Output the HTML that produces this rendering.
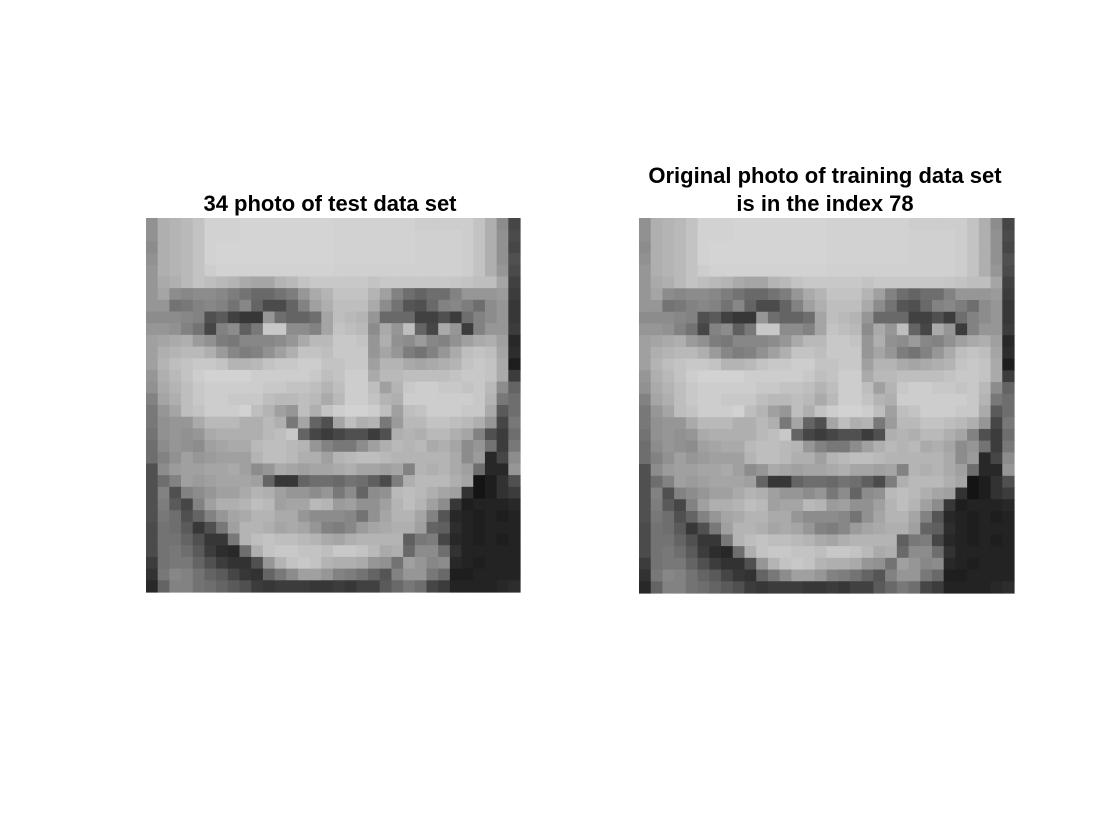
<!DOCTYPE html>
<html><head><meta charset="utf-8"><style>
html,body{margin:0;padding:0;background:#fff;width:1120px;height:840px;overflow:hidden}
svg{display:block}
text{font-family:"Liberation Sans",Arial,sans-serif;font-weight:bold;font-size:22px;fill:#000}
</style></head><body>
<svg id="fig" width="1120" height="840">
<text x="330" y="211" text-anchor="middle">34 photo of test data set</text>
<text x="825" y="183" text-anchor="middle">Original photo of training data set</text>
<text x="825" y="211" text-anchor="middle">is in the index 78</text>
<g id="imgL"></g>
<g id="imgR"></g>
</svg>
<script>
const topLeft = [
[145,175,180,185,195,210,210,210,212,212,212,212,212,212,212,212],
[145,175,180,185,195,210,210,210,212,212,212,212,212,212,212,212],
[140,175,180,185,195,210,212,212,212,212,212,212,212,212,212,212],
[145,175,180,185,195,210,212,212,212,212,212,212,212,212,212,212],
[150,175,180,185,195,205,210,210,210,210,210,210,210,210,210,210],
[150,170,175,185,195,190,185,180,170,165,165,180,185,195,200,200],
[150,165,140,135,140,140,135,125,115,105,105,115,125,150,170,180],
[150,150,115,120,130,135,130,115,135,100,75,75,100,130,160,175],
[140,140,140,135,130,80,90,65,55,55,150,110,100,100,110,165],
[150,150,145,130,115,70,130,140,95,120,200,200,140,140,130,165],
[160,165,170,175,155,145,125,120,135,135,135,140,150,170,185,185],
[160,175,180,185,185,175,155,135,125,130,145,160,175,195,195,190],
[160,180,190,195,200,200,195,180,180,185,195,200,200,205,205,195],
[150,175,185,195,205,210,210,210,210,205,205,205,205,205,200,190],
[145,170,180,190,200,205,205,205,205,205,200,200,195,195,190,180],
[130,165,175,190,200,205,205,200,200,200,190,185,185,190,185,170]];
const topRight = [
[210,210,210,210,210,210,210,205,205,205,205,205,195,175,140,70],
[210,210,210,210,210,210,210,208,208,208,208,205,195,175,145,75],
[210,210,210,210,210,210,210,208,208,208,208,205,195,175,145,70],
[210,210,210,210,210,210,210,208,208,208,208,205,195,175,145,80],
[208,208,208,208,208,208,208,208,208,208,208,205,195,175,150,75],
[200,200,200,195,200,200,200,200,200,200,198,195,190,190,165,65],
[195,195,195,180,160,130,110,100,110,110,130,150,150,150,155,60],
[190,190,190,170,140,115,85,80,105,130,135,125,110,140,150,55],
[190,185,180,150,105,105,105,65,65,80,60,110,130,140,150,55],
[195,190,185,140,170,150,190,100,70,170,150,60,130,150,150,60],
[200,200,195,150,175,145,140,155,135,130,145,160,170,175,160,40],
[200,200,200,150,165,150,125,115,130,150,170,190,195,190,165,45],
[195,200,200,160,180,180,170,165,170,175,180,195,200,195,170,30],
[195,205,205,170,185,185,190,190,190,190,195,200,200,195,170,60],
[190,205,205,190,160,180,200,205,205,200,200,195,200,185,140,100],
[185,205,205,195,180,175,205,205,205,205,205,205,200,180,120,110]];
const bottomLeft = [
[120,150,165,190,195,205,205,205,210,190,180,160,150,190,175,195],
[120,145,150,150,170,185,185,185,175,175,185,175,120,165,100,80],
[115,145,150,145,150,170,175,175,175,175,185,190,200,100,70,60],
[110,140,150,145,140,160,165,170,170,185,190,190,185,180,150,130],
[110,130,145,160,150,155,160,160,160,180,190,190,185,175,175,160],
[80,140,155,160,160,165,165,170,160,140,150,170,165,160,165,165],
[80,110,130,160,155,160,165,165,165,160,100,55,55,100,110,110],
[80,130,80,130,140,150,160,160,170,180,175,160,150,150,140,150],
[80,125,90,70,130,160,175,175,180,190,185,160,165,165,185,180],
[80,120,110,80,100,130,150,165,170,180,180,170,170,150,140,140],
[75,115,110,90,55,80,120,160,180,180,175,165,170,165,150,130],
[75,115,115,100,80,55,55,120,180,190,195,190,190,185,180,170],
[75,115,120,110,90,60,45,40,110,175,195,200,200,195,195,190],
[60,115,120,120,100,80,60,50,50,80,150,180,195,200,195,180],
[50,120,135,130,115,100,90,70,55,50,100,120,140,160,160,150],
[40,100,130,130,115,110,100,90,80,60,55,60,60,60,55,55]];
const bottomRight = [
[205,210,210,205,190,160,190,195,205,205,205,200,200,170,90,110],
[165,190,175,180,120,155,185,185,195,195,190,185,175,150,70,120],
[70,80,80,60,80,175,180,175,185,185,175,165,130,80,60,110],
[120,120,140,160,175,185,180,185,170,175,165,140,150,115,60,120],
[180,185,190,190,185,180,180,180,180,180,170,140,155,40,70,140],
[170,175,165,165,160,165,130,180,175,180,170,160,110,40,40,150],
[105,115,110,95,75,125,175,185,185,185,175,165,20,30,50,80],
[120,140,100,140,145,185,190,185,175,165,160,50,20,30,50,60],
[155,160,145,145,160,180,190,180,160,140,55,30,35,35,35,40],
[140,135,115,145,165,180,180,165,130,85,40,35,30,35,30,35],
[125,135,155,165,170,175,175,160,100,95,45,35,30,35,35,35],
[165,175,180,180,180,180,95,120,125,70,40,35,30,35,30,35],
[200,200,195,185,170,175,105,140,140,110,50,35,35,35,35,35],
[175,175,170,150,145,115,160,150,135,140,40,35,30,35,35,35],
[130,125,115,100,85,130,150,150,120,105,30,30,35,35,35,35],
[60,55,65,65,90,105,120,110,70,60,35,35,35,35,40,45]];

const NS='http://www.w3.org/2000/svg';
const rows = [];
for (let r=0;r<16;r++) rows.push(topLeft[r].concat(topRight[r]));
for (let r=0;r<16;r++) rows.push(bottomLeft[r].concat(bottomRight[r]));

function drawImage(gid, x0, y0, size){
  const g=document.getElementById(gid);
  const n=rows.length, m=rows[0].length;
  const cw=size/m, ch=size/n;
  const xs=c=>x0+c*cw, ys=r=>y0+r*ch;
  for(let r=0;r<n;r++){
    for(let c=0;c<m;c++){
      const v=Math.round(rows[r][c]);
      const rect=document.createElementNS(NS,'rect');
      rect.setAttribute('x',xs(c));
      rect.setAttribute('y',ys(r));
      rect.setAttribute('width',cw+0.6);
      rect.setAttribute('height',ch+0.6);
      rect.setAttribute('fill','rgb('+v+','+v+','+v+')');
      
      
      g.appendChild(rect);
    }
  }
}
drawImage('imgL',146,218,374);
drawImage('imgR',639,218,375);
</script>
</body></html>
